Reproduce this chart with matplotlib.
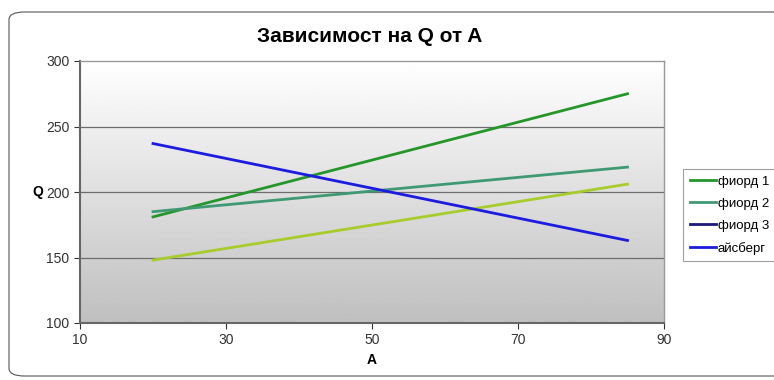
import matplotlib.pyplot as plt
import numpy as np
from matplotlib.lines import Line2D
from matplotlib.patches import FancyBboxPatch

plt.rcParams['font.family'] = ['Liberation Sans', 'DejaVu Sans']

# Series data: A values and Q values for each line
a_values = [20, 85]
fjord1_q = [181, 275]
fjord2_q = [185, 219]
fjord3_q = [148, 206]
iceberg_q = [237, 163]

series_labels = ['фиорд 1', 'фиорд 2', 'фиорд 3', 'айсберг']
line_colors = ['#24962a', '#3f9a74', '#a8cc2c', '#1c1ce0']
legend_colors = ['#24962a', '#3f9a74', '#1a1a7a', '#1c1ce0']

x_ticks = [10, 30, 50, 70, 90]
y_ticks = [100, 150, 200, 250, 300]

fig = plt.figure(figsize=(7.74, 3.80), dpi=100)
ax = fig.add_axes([80 / 774, 1 - 323 / 380, 584 / 774, 262 / 380])

# rounded outer frame of the chart
frame = FancyBboxPatch((9 / 774, 4 / 380), 780 / 774, 364 / 380,
                       boxstyle='round,pad=0,rounding_size=0.02',
                       transform=fig.transFigure, facecolor='none',
                       edgecolor='#555555', linewidth=0.8, zorder=0)
fig.patches.append(frame)

# vertical gradient for the plot area
grad = np.linspace(1.0, 0.0, 256).reshape(-1, 1)
ax.imshow(grad, extent=[10, 90, 100, 300], aspect='auto', cmap='gray',
          vmin=-3.0, vmax=1.0, origin='upper', zorder=0)
ax.set_facecolor('white')

for yv in y_ticks[1:-1]:
    ax.axhline(yv, color='#6e6e6e', linewidth=0.9, zorder=1)

for q, c in zip([fjord1_q, fjord2_q, fjord3_q, iceberg_q], line_colors):
    ax.plot(a_values, q, color=c, linewidth=2, zorder=3)

ax.set_xlim(10, 90)
ax.set_ylim(100, 300)
ax.set_xticks(x_ticks)
ax.set_yticks(y_ticks)
ax.tick_params(labelsize=10, colors='#333333', length=4, width=0.8,
               direction='out')
for side in ['left', 'bottom']:
    ax.spines[side].set_color('#666666')
    ax.spines[side].set_linewidth(1.5)
for side in ['right', 'top']:
    ax.spines[side].set_color('#999999')
    ax.spines[side].set_linewidth(1.0)

ax.set_xlabel('A', fontsize=10, fontweight='bold', labelpad=4)
ax.set_ylabel('Q', fontsize=10, fontweight='bold', rotation=0,
              labelpad=6, va='center')

fig.text(370 / 774, 1 - 37 / 380, 'Зависимост на Q от A', ha='center',
         va='center', fontsize=15, fontweight='bold')

handles = [Line2D([], [], color=c, linewidth=2) for c in legend_colors]
leg = fig.legend(handles, series_labels, loc='center left',
                 bbox_to_anchor=(683 / 774, 1 - 215 / 380), fontsize=9.5,
                 frameon=True, fancybox=False, handlelength=2.0,
                 handletextpad=0.15, borderpad=0.5, labelspacing=0.75,
                 borderaxespad=0)
leg.get_frame().set_edgecolor('#888888')
leg.get_frame().set_linewidth(0.8)

fig.savefig('out.png', dpi=100)
